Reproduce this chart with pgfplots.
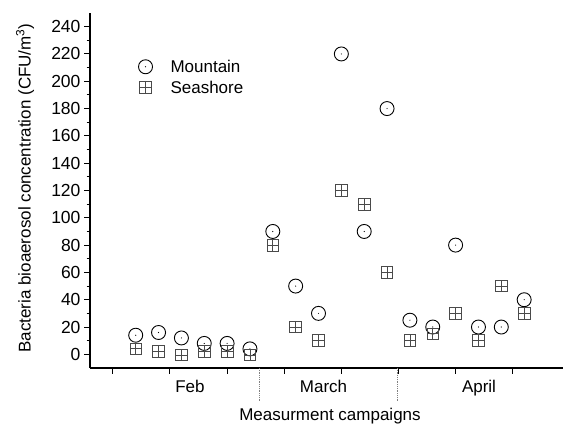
\documentclass[border=0pt]{standalone}
\usepackage{pgfplots}
\pgfplotsset{compat=1.18}
\usepackage{fontspec}
\setmainfont{Liberation Sans}
\pgfdeclareplotmark{odot}{%
  \pgfpathcircle{\pgfpointorigin}{\pgfplotmarksize}\pgfusepathqstroke
  \pgfpathcircle{\pgfpointorigin}{0.6pt}\pgfusepathqfill}
\pgfdeclareplotmark{sqplus}{%
  \pgfpathrectangle{\pgfpoint{-\pgfplotmarksize}{-\pgfplotmarksize}}{\pgfpoint{2\pgfplotmarksize}{2\pgfplotmarksize}}%
  \pgfpathmoveto{\pgfpoint{-\pgfplotmarksize}{0pt}}\pgfpathlineto{\pgfpoint{\pgfplotmarksize}{0pt}}%
  \pgfpathmoveto{\pgfpoint{0pt}{-\pgfplotmarksize}}\pgfpathlineto{\pgfpoint{0pt}{\pgfplotmarksize}}%
  \pgfusepathqstroke}
\definecolor{sqgray}{HTML}{4A4A4A}
\begin{document}
\begin{tikzpicture}
\path[use as bounding box] (0pt,0pt) rectangle (565pt,425pt);
\begin{axis}[
  at={(90pt,57pt)}, anchor=south west,
  scale only axis, width=473pt, height=355pt,
  xmin=-1, xmax=19.7, ymin=-10, ymax=250,
  axis x line*=bottom, axis y line*=left,
  axis line style={line width=1.1pt},
  xtick={0,2.5,...,17.5}, xticklabels={},
  ytick={0,20,...,240}, minor y tick num=1,
  tick align=outside, major tick length=6pt, minor tick length=3.5pt,
  tick style={black, line width=1pt},
  tick label style={font=\fontsize{17.5}{20}\selectfont},
  /pgf/number format/assume math mode=true,
  clip=false,
  legend style={draw=none, fill=none, at={(axis cs:1.115,203)}, anchor=west,
    inner sep=0pt, column sep=18pt, row sep=7pt,
    font=\fontsize{17}{20}\selectfont, nodes={inner sep=0pt}},
  legend cell align=left,
  legend image code/.code={\draw[#1] plot coordinates {(0pt,0pt)};},
]
\addplot[only marks, mark=odot, mark size=7pt, black, line width=0.9pt]
 coordinates {(1,14)(2,16)(3,12)(4,8)(5,8)(6,4)
 (7,90)(8,50)(9,30)(10,220)(11,90)(12,180)
 (13,25)(14,20)(15,80)(16,20)(17,20)(18,40)};
\addlegendentry{Mountain}
\addplot[only marks, mark=sqplus, mark size=5.8pt, sqgray, line width=0.8pt]
 coordinates {(1,4)(2,2)(3,-0.5)(4,2)(5,2)(6,-0.5)
 (7,80)(8,20)(9,10)(10,120)(11,110)(12,60)
 (13,10)(14,15)(15,30)(16,10)(17,50)(18,30)};
\addlegendentry{Seashore}
\draw[gray, densely dotted, line width=0.8pt] (axis cs:6.4,-10) -- ++(0pt,-33pt);
\draw[gray, densely dotted, line width=0.8pt] (axis cs:12.47,-10) -- ++(0pt,-33pt);
\end{axis}
\node[rotate=90, font=\fontsize{17}{20}\selectfont] at (25pt,237pt) {Bacteria bioaerosol concentration (CFU/m\textsuperscript{3})};
\node[anchor=base, font=\fontsize{17}{20}\selectfont] at (190pt,32pt) {Feb};
\node[anchor=base, font=\fontsize{17}{20}\selectfont] at (323.5pt,32pt) {March};
\node[anchor=base, font=\fontsize{17}{20}\selectfont] at (479pt,32pt) {April};
\node[anchor=base, font=\fontsize{17}{20}\selectfont] at (330pt,4.5pt) {Measurment campaigns};
\end{tikzpicture}
\end{document}
